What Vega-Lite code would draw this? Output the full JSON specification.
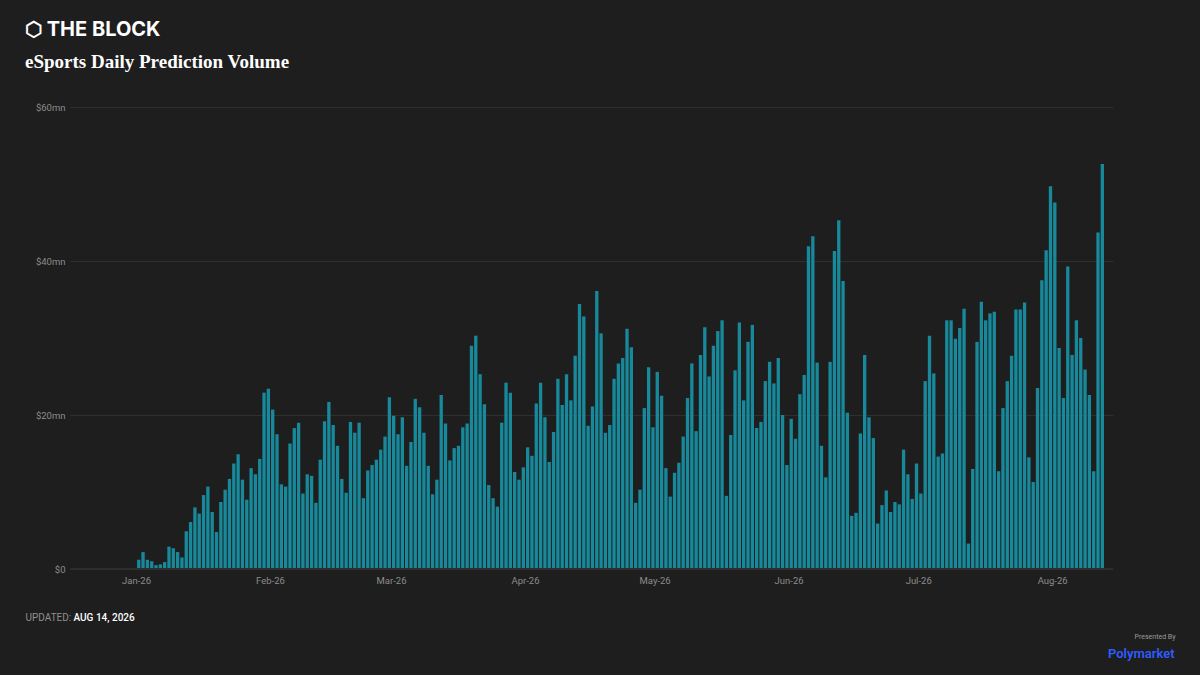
{
  "$schema": "https://vega.github.io/schema/vega-lite/v6.json",
  "width": 1043,
  "height": 462,
  "autosize": {"type": "none"},
  "padding": {"left": 70, "top": 107, "right": 87, "bottom": 106},
  "background": "#1e1e1e",
  "config": {"view": {"stroke": null}, "font": "Roboto"},
  "title": {
    "text": "⬡ THE BLOCK",
    "subtitle": "eSports Daily Prediction Volume",
    "anchor": "start",
    "frame": "group",
    "dx": -45,
    "offset": 30,
    "font": "Inter",
    "fontSize": 20,
    "fontWeight": 700,
    "color": "#ffffff",
    "subtitleFont": "Liberation Serif",
    "subtitleFontSize": 19,
    "subtitleFontWeight": "bold",
    "subtitleColor": "#ffffff",
    "subtitlePadding": 13
  },
  "data": {
    "values": [
      {"d": "2026-01-01", "v": 1.2}, {"d": "2026-01-02", "v": 2.2}, {"d": "2026-01-03", "v": 1.2}, {"d": "2026-01-04", "v": 1.0},
      {"d": "2026-01-05", "v": 0.5}, {"d": "2026-01-06", "v": 0.6}, {"d": "2026-01-07", "v": 0.9}, {"d": "2026-01-08", "v": 2.9},
      {"d": "2026-01-09", "v": 2.7}, {"d": "2026-01-10", "v": 2.2}, {"d": "2026-01-11", "v": 1.5}, {"d": "2026-01-12", "v": 4.9},
      {"d": "2026-01-13", "v": 6.1}, {"d": "2026-01-14", "v": 8.0}, {"d": "2026-01-15", "v": 7.2}, {"d": "2026-01-16", "v": 9.6},
      {"d": "2026-01-17", "v": 10.7}, {"d": "2026-01-18", "v": 7.4}, {"d": "2026-01-19", "v": 4.8}, {"d": "2026-01-20", "v": 8.7},
      {"d": "2026-01-21", "v": 10.3}, {"d": "2026-01-22", "v": 11.7}, {"d": "2026-01-23", "v": 13.7}, {"d": "2026-01-24", "v": 14.9},
      {"d": "2026-01-25", "v": 11.6}, {"d": "2026-01-26", "v": 9.0}, {"d": "2026-01-27", "v": 13.1}, {"d": "2026-01-28", "v": 12.3},
      {"d": "2026-01-29", "v": 14.3}, {"d": "2026-01-30", "v": 22.9}, {"d": "2026-01-31", "v": 23.4},
      {"d": "2026-02-01", "v": 20.7}, {"d": "2026-02-02", "v": 17.5}, {"d": "2026-02-03", "v": 11.0}, {"d": "2026-02-04", "v": 10.7},
      {"d": "2026-02-05", "v": 16.3}, {"d": "2026-02-06", "v": 18.3}, {"d": "2026-02-07", "v": 19.0}, {"d": "2026-02-08", "v": 9.8},
      {"d": "2026-02-09", "v": 12.3}, {"d": "2026-02-10", "v": 12.1}, {"d": "2026-02-11", "v": 8.6}, {"d": "2026-02-12", "v": 14.2},
      {"d": "2026-02-13", "v": 19.2}, {"d": "2026-02-14", "v": 21.7}, {"d": "2026-02-15", "v": 18.7}, {"d": "2026-02-16", "v": 16.0},
      {"d": "2026-02-17", "v": 11.7}, {"d": "2026-02-18", "v": 9.9}, {"d": "2026-02-19", "v": 19.1}, {"d": "2026-02-20", "v": 17.7},
      {"d": "2026-02-21", "v": 19.0}, {"d": "2026-02-22", "v": 9.2}, {"d": "2026-02-23", "v": 12.8}, {"d": "2026-02-24", "v": 13.5},
      {"d": "2026-02-25", "v": 14.2}, {"d": "2026-02-26", "v": 15.5}, {"d": "2026-02-27", "v": 17.2}, {"d": "2026-02-28", "v": 22.3},
      {"d": "2026-03-01", "v": 19.9}, {"d": "2026-03-02", "v": 17.5}, {"d": "2026-03-03", "v": 19.7}, {"d": "2026-03-04", "v": 13.4},
      {"d": "2026-03-05", "v": 16.5}, {"d": "2026-03-06", "v": 22.1}, {"d": "2026-03-07", "v": 21.0}, {"d": "2026-03-08", "v": 17.7},
      {"d": "2026-03-09", "v": 13.4}, {"d": "2026-03-10", "v": 9.7}, {"d": "2026-03-11", "v": 11.6}, {"d": "2026-03-12", "v": 22.6},
      {"d": "2026-03-13", "v": 18.9}, {"d": "2026-03-14", "v": 14.1}, {"d": "2026-03-15", "v": 15.7}, {"d": "2026-03-16", "v": 16.0},
      {"d": "2026-03-17", "v": 18.4}, {"d": "2026-03-18", "v": 18.9}, {"d": "2026-03-19", "v": 29.0}, {"d": "2026-03-20", "v": 30.3},
      {"d": "2026-03-21", "v": 25.3}, {"d": "2026-03-22", "v": 21.4}, {"d": "2026-03-23", "v": 10.9}, {"d": "2026-03-24", "v": 9.2},
      {"d": "2026-03-25", "v": 8.1}, {"d": "2026-03-26", "v": 19.0}, {"d": "2026-03-27", "v": 24.2}, {"d": "2026-03-28", "v": 22.9},
      {"d": "2026-03-29", "v": 12.6}, {"d": "2026-03-30", "v": 11.6}, {"d": "2026-03-31", "v": 13.2},
      {"d": "2026-04-01", "v": 15.8}, {"d": "2026-04-02", "v": 14.7}, {"d": "2026-04-03", "v": 21.5}, {"d": "2026-04-04", "v": 24.2},
      {"d": "2026-04-05", "v": 19.7}, {"d": "2026-04-06", "v": 13.9}, {"d": "2026-04-07", "v": 17.8}, {"d": "2026-04-08", "v": 24.7},
      {"d": "2026-04-09", "v": 21.3}, {"d": "2026-04-10", "v": 25.3}, {"d": "2026-04-11", "v": 21.9}, {"d": "2026-04-12", "v": 27.7},
      {"d": "2026-04-13", "v": 34.4}, {"d": "2026-04-14", "v": 32.8}, {"d": "2026-04-15", "v": 18.6}, {"d": "2026-04-16", "v": 21.1},
      {"d": "2026-04-17", "v": 36.1}, {"d": "2026-04-18", "v": 30.6}, {"d": "2026-04-19", "v": 17.7}, {"d": "2026-04-20", "v": 18.7},
      {"d": "2026-04-21", "v": 24.7}, {"d": "2026-04-22", "v": 26.7}, {"d": "2026-04-23", "v": 27.4}, {"d": "2026-04-24", "v": 31.2},
      {"d": "2026-04-25", "v": 28.8}, {"d": "2026-04-26", "v": 8.6}, {"d": "2026-04-27", "v": 10.3}, {"d": "2026-04-28", "v": 20.9},
      {"d": "2026-04-29", "v": 26.2}, {"d": "2026-04-30", "v": 18.4},
      {"d": "2026-05-01", "v": 25.6}, {"d": "2026-05-02", "v": 22.5}, {"d": "2026-05-03", "v": 13.1}, {"d": "2026-05-04", "v": 9.4},
      {"d": "2026-05-05", "v": 12.5}, {"d": "2026-05-06", "v": 13.8}, {"d": "2026-05-07", "v": 17.2}, {"d": "2026-05-08", "v": 22.2},
      {"d": "2026-05-09", "v": 26.7}, {"d": "2026-05-10", "v": 17.9}, {"d": "2026-05-11", "v": 27.8}, {"d": "2026-05-12", "v": 31.4},
      {"d": "2026-05-13", "v": 25.0}, {"d": "2026-05-14", "v": 29.0}, {"d": "2026-05-15", "v": 30.9}, {"d": "2026-05-16", "v": 32.3},
      {"d": "2026-05-17", "v": 9.5}, {"d": "2026-05-18", "v": 17.4}, {"d": "2026-05-19", "v": 25.8}, {"d": "2026-05-20", "v": 32.0},
      {"d": "2026-05-21", "v": 21.9}, {"d": "2026-05-22", "v": 29.5}, {"d": "2026-05-23", "v": 31.7}, {"d": "2026-05-24", "v": 18.3},
      {"d": "2026-05-25", "v": 19.1}, {"d": "2026-05-26", "v": 24.4}, {"d": "2026-05-27", "v": 26.9}, {"d": "2026-05-28", "v": 24.1},
      {"d": "2026-05-29", "v": 27.4}, {"d": "2026-05-30", "v": 20.0}, {"d": "2026-05-31", "v": 13.5},
      {"d": "2026-06-01", "v": 19.5}, {"d": "2026-06-02", "v": 16.9}, {"d": "2026-06-03", "v": 22.7}, {"d": "2026-06-04", "v": 25.2},
      {"d": "2026-06-05", "v": 41.9}, {"d": "2026-06-06", "v": 43.2}, {"d": "2026-06-07", "v": 26.8}, {"d": "2026-06-08", "v": 16.0},
      {"d": "2026-06-09", "v": 11.9}, {"d": "2026-06-10", "v": 26.9}, {"d": "2026-06-11", "v": 41.3}, {"d": "2026-06-12", "v": 45.3},
      {"d": "2026-06-13", "v": 37.4}, {"d": "2026-06-14", "v": 20.3}, {"d": "2026-06-15", "v": 6.9}, {"d": "2026-06-16", "v": 7.3},
      {"d": "2026-06-17", "v": 17.6}, {"d": "2026-06-18", "v": 27.8}, {"d": "2026-06-19", "v": 19.7}, {"d": "2026-06-20", "v": 17.0},
      {"d": "2026-06-21", "v": 5.9}, {"d": "2026-06-22", "v": 8.3}, {"d": "2026-06-23", "v": 10.2}, {"d": "2026-06-24", "v": 7.4},
      {"d": "2026-06-25", "v": 8.7}, {"d": "2026-06-26", "v": 8.4}, {"d": "2026-06-27", "v": 15.5}, {"d": "2026-06-28", "v": 12.3},
      {"d": "2026-06-29", "v": 9.1}, {"d": "2026-06-30", "v": 13.7},
      {"d": "2026-07-01", "v": 9.8}, {"d": "2026-07-02", "v": 24.4}, {"d": "2026-07-03", "v": 30.3}, {"d": "2026-07-04", "v": 25.4},
      {"d": "2026-07-05", "v": 14.6}, {"d": "2026-07-06", "v": 15.0}, {"d": "2026-07-07", "v": 32.3}, {"d": "2026-07-08", "v": 32.3},
      {"d": "2026-07-09", "v": 29.9}, {"d": "2026-07-10", "v": 31.3}, {"d": "2026-07-11", "v": 33.8}, {"d": "2026-07-12", "v": 3.3},
      {"d": "2026-07-13", "v": 13.0}, {"d": "2026-07-14", "v": 29.5}, {"d": "2026-07-15", "v": 34.7}, {"d": "2026-07-16", "v": 32.3},
      {"d": "2026-07-17", "v": 33.2}, {"d": "2026-07-18", "v": 33.4}, {"d": "2026-07-19", "v": 12.7}, {"d": "2026-07-20", "v": 20.9},
      {"d": "2026-07-21", "v": 24.4}, {"d": "2026-07-22", "v": 27.7}, {"d": "2026-07-23", "v": 33.7}, {"d": "2026-07-24", "v": 33.7},
      {"d": "2026-07-25", "v": 34.6}, {"d": "2026-07-26", "v": 14.5}, {"d": "2026-07-27", "v": 11.3}, {"d": "2026-07-28", "v": 23.5},
      {"d": "2026-07-29", "v": 37.5}, {"d": "2026-07-30", "v": 41.4}, {"d": "2026-07-31", "v": 49.7},
      {"d": "2026-08-01", "v": 47.6}, {"d": "2026-08-02", "v": 28.7}, {"d": "2026-08-03", "v": 22.2}, {"d": "2026-08-04", "v": 39.3},
      {"d": "2026-08-05", "v": 27.8}, {"d": "2026-08-06", "v": 32.3}, {"d": "2026-08-07", "v": 30.0}, {"d": "2026-08-08", "v": 25.9},
      {"d": "2026-08-09", "v": 22.6}, {"d": "2026-08-10", "v": 12.7}, {"d": "2026-08-11", "v": 43.7}, {"d": "2026-08-12", "v": 52.6}
    ]
  },
  "layer": [
    {
      "mark": {"type": "bar", "color": "#17899b"},
      "encoding": {
        "x": {
          "field": "d",
          "type": "temporal",
          "timeUnit": "utcyearmonthdate",
          "scale": {
            "type": "utc",
            "domain": [
              {"year": 2025, "month": 12, "date": 16, "hours": 17, "utc": true},
              {"year": 2026, "month": 8, "date": 15, "hours": 2, "utc": true}
            ]
          },
          "axis": {
            "title": "UPDATED:",
            "grid": false,
            "ticks": false,
            "domain": false,
            "tickCount": {"interval": "month", "step": 1},
            "labelExpr": "utcFormat(datum.value, '%b-%y')",
            "labelColor": "#8c8c8c",
            "labelFontSize": 9.5,
            "labelPadding": 6,
            "titleX": -45,
            "titleY": 48,
            "titleAlign": "left",
            "titleBaseline": "middle",
            "titleColor": "#8f8f8f",
            "titleFontSize": 10,
            "titleFontWeight": "normal"
          }
        },
        "y": {
          "field": "v",
          "type": "quantitative",
          "scale": {"domain": [0, 60], "nice": false},
          "axis": {
            "values": [0, 20, 40, 60],
            "labelExpr": "datum.value == 0 ? '$0' : '$' + datum.value + 'mn'",
            "grid": true,
            "gridColor": "#2f2f2f",
            "ticks": false,
            "domain": false,
            "labelColor": "#8c8c8c",
            "labelFontSize": 9.5,
            "labelPadding": 5,
            "title": "AUG 14, 2026",
            "titleAngle": 0,
            "titleX": 3,
            "titleY": 510,
            "titleAlign": "left",
            "titleBaseline": "middle",
            "titleColor": "#ffffff",
            "titleFontSize": 10,
            "titleFontWeight": 500
          }
        }
      }
    },
    {
      "mark": {"type": "rule", "color": "#2f2f2f"},
      "encoding": {
        "x": {
          "datum": {"year": 2025, "month": 12, "date": 16, "hours": 17, "utc": true},
          "type": "temporal",
          "axis": {
            "orient": "bottom",
            "title": "Presented By",
            "labels": false,
            "ticks": false,
            "domain": false,
            "grid": false,
            "titleX": 1105,
            "titleY": 67,
            "titleAlign": "right",
            "titleBaseline": "middle",
            "titleColor": "#9a9a9a",
            "titleFontSize": 7,
            "titleFontWeight": "normal"
          }
        },
        "x2": {"datum": {"year": 2026, "month": 8, "date": 15, "hours": 2, "utc": true}},
        "y": {
          "datum": 0,
          "type": "quantitative",
          "axis": {
            "orient": "right",
            "title": "Polymarket",
            "labels": false,
            "ticks": false,
            "domain": false,
            "grid": false,
            "titleAngle": 0,
            "titleX": 61,
            "titleY": 546,
            "titleAlign": "right",
            "titleBaseline": "middle",
            "titleColor": "#2e5cff",
            "titleFontSize": 13,
            "titleFontWeight": 600
          }
        }
      }
    }
  ],
  "resolve": {"axis": {"x": "independent", "y": "independent"}}
}
